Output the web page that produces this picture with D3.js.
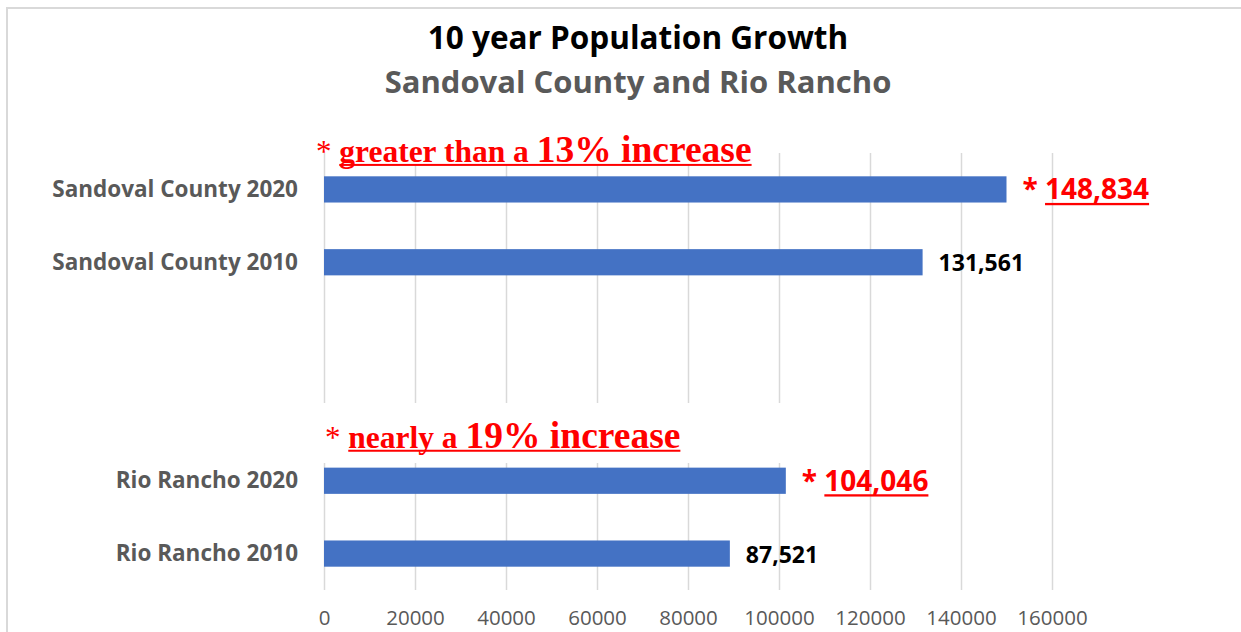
<!DOCTYPE html>
<html>
<head>
<meta charset="utf-8">
<script src="https://cdn.jsdelivr.net/npm/d3@7"></script>
<style>
  html, body { margin: 0; padding: 0; background: #ffffff; }
  svg { display: block; }
  .sans { font-family: "Open Sans", "Noto Sans", sans-serif; }
  .serif { font-family: "Liberation Serif", "Times New Roman", serif; }
</style>
</head>
<body>
<svg id="chart" width="1241" height="632"></svg>
<script>
// ---- data ----
const categories = ["Sandoval County 2020", "Sandoval County 2010", "gap1", "gap2", "Rio Rancho 2020", "Rio Rancho 2010"];
const categoryLabels = ["Sandoval County 2020", "Sandoval County 2010", "", "", "Rio Rancho 2020", "Rio Rancho 2010"];
const barCategories = ["Sandoval County 2020", "Sandoval County 2010", "Rio Rancho 2020", "Rio Rancho 2010"];
const barValues = [150000, 131561, 101500, 89200];
const valueLabels = ["148,834", "131,561", "104,046", "87,521"];
const valueHighlighted = [true, false, true, false];
const tickValues = [0, 20000, 40000, 60000, 80000, 100000, 120000, 140000, 160000];
const titleText = "10 year Population Growth";
const subtitleText = "Sandoval County and Rio Rancho";
const noteCategories = ["Sandoval County 2020", "Rio Rancho 2020"];
const noteSmall = ["greater than a ", "nearly a "];
const noteBig = ["13% increase", "19% increase"];

// ---- layout ----
const svg = d3.select("#chart");
const W = 1241, H = 632;
const plotLeft = 324, plotRight = 1052, plotTop = 153, plotBottom = 590;

const x = d3.scaleLinear().domain([0, 160000]).range([plotLeft, plotRight]);
const y = d3.scaleBand().domain(categories).range([plotTop, plotBottom])
  .paddingInner(0.64).paddingOuter(0.32);

// chart border
svg.append("path")
  .attr("d", `M7,${H} V8 H${W}`)
  .attr("fill", "none").attr("stroke", "#d9d9d9").attr("stroke-width", 2);

// title
svg.append("text").attr("class", "sans")
  .attr("x", 638).attr("y", 49).attr("text-anchor", "middle")
  .attr("font-size", 31.5).attr("font-weight", 700).attr("fill", "#000000")
  .text(titleText);
svg.append("text").attr("class", "sans")
  .attr("x", 638).attr("y", 93).attr("text-anchor", "middle")
  .attr("font-size", 31).attr("font-weight", 700).attr("fill", "#595959")
  .text(subtitleText);

// gridlines
const xAxis = d3.axisBottom(x).tickValues(tickValues).tickSize(-(plotBottom - plotTop)).tickFormat(d3.format("d"));
const gx = svg.append("g").attr("transform", `translate(0,${plotBottom})`).call(xAxis);
gx.select(".domain").remove();
gx.selectAll(".tick line").attr("stroke", "#d9d9d9").attr("stroke-width", 1.5);
gx.selectAll(".tick text").attr("class", "sans").attr("y", 35).attr("dy", 0)
  .attr("font-size", 20.5).attr("fill", "#595959");

// white boxes behind annotations (cover gridlines)
const noteBoxes = svg.append("g");

// bars
svg.append("g").selectAll("rect").data(barCategories).join("rect")
  .attr("x", x(0))
  .attr("y", d => y(d))
  .attr("width", (d, i) => x(barValues[i]) - x(0))
  .attr("height", y.bandwidth())
  .attr("fill", "#4472C4");

// category labels
svg.append("g").selectAll("text").data(categories).join("text")
  .attr("class", "sans")
  .attr("x", 298).attr("y", d => y(d) + y.bandwidth() / 2 + 7.5)
  .attr("text-anchor", "end").attr("font-size", 22.5).attr("font-weight", 700)
  .attr("fill", "#595959")
  .text((d, i) => categoryLabels[i]);

// value labels
const vl = svg.append("g");
barCategories.forEach((c, i) => {
  const cy = y(c) + y.bandwidth() / 2;
  const x0 = x(barValues[i]) + 16;
  if (valueHighlighted[i]) {
    const star = vl.append("text").attr("class", "sans")
      .attr("x", x0).attr("y", cy + 10).attr("font-size", 28).attr("font-weight", 700)
      .attr("fill", "#ff0000").attr("xml:space", "preserve").text("* ");
    const sw = star.node().getComputedTextLength();
    const num = vl.append("text").attr("class", "sans")
      .attr("x", x0 + sw).attr("y", cy + 10).attr("font-size", 28).attr("font-weight", 700)
      .attr("fill", "#ff0000").text(valueLabels[i]);
    const nw = num.node().getComputedTextLength();
    vl.append("rect").attr("x", x0 + sw).attr("y", cy + 13.5).attr("width", nw).attr("height", 2.3)
      .attr("fill", "#ff0000");
  } else {
    vl.append("text").attr("class", "sans")
      .attr("x", x0).attr("y", cy + 9).attr("font-size", 23).attr("font-weight", 700)
      .attr("fill", "#000000").text(valueLabels[i]);
  }
});

// annotations
const notes = svg.append("g");
const noteOffsets = [{dx: -8, dy: -27.5, boxL: 328, boxT: 120, boxR: 765, boxB: 164},
                     {dx: 1, dy: -33, boxL: 305, boxT: 403, boxR: 800, boxB: 463}];
noteCategories.forEach((c, i) => {
  const o = noteOffsets[i];
  const cy = y(c) + y.bandwidth() / 2;
  const base = cy + o.dy;
  const x0 = x(0) + o.dx;
  noteBoxes.append("rect").attr("x", o.boxL).attr("y", o.boxT)
    .attr("width", o.boxR - o.boxL).attr("height", o.boxB - o.boxT).attr("fill", "#ffffff");
  const star = notes.append("text").attr("class", "serif")
    .attr("x", x0).attr("y", base).attr("font-size", 31).attr("font-weight", 400)
    .attr("fill", "#ff0000").attr("xml:space", "preserve").text("* ");
  const sw = star.node().getComputedTextLength();
  const t1 = notes.append("text").attr("class", "serif")
    .attr("x", x0 + sw).attr("y", base).attr("font-size", 31.5).attr("font-weight", 700)
    .attr("fill", "#ff0000").attr("xml:space", "preserve").text(noteSmall[i]);
  const w1 = t1.node().getComputedTextLength();
  const t2 = notes.append("text").attr("class", "serif")
    .attr("x", x0 + sw + w1).attr("y", base).attr("font-size", 37.5).attr("font-weight", 700)
    .attr("fill", "#ff0000").text(noteBig[i]);
  const w2 = t2.node().getComputedTextLength();
  notes.append("rect").attr("x", x0 + sw).attr("y", base + 2).attr("width", w1 + w2).attr("height", 2)
    .attr("fill", "#ff0000");
});
</script>
</body>
</html>
